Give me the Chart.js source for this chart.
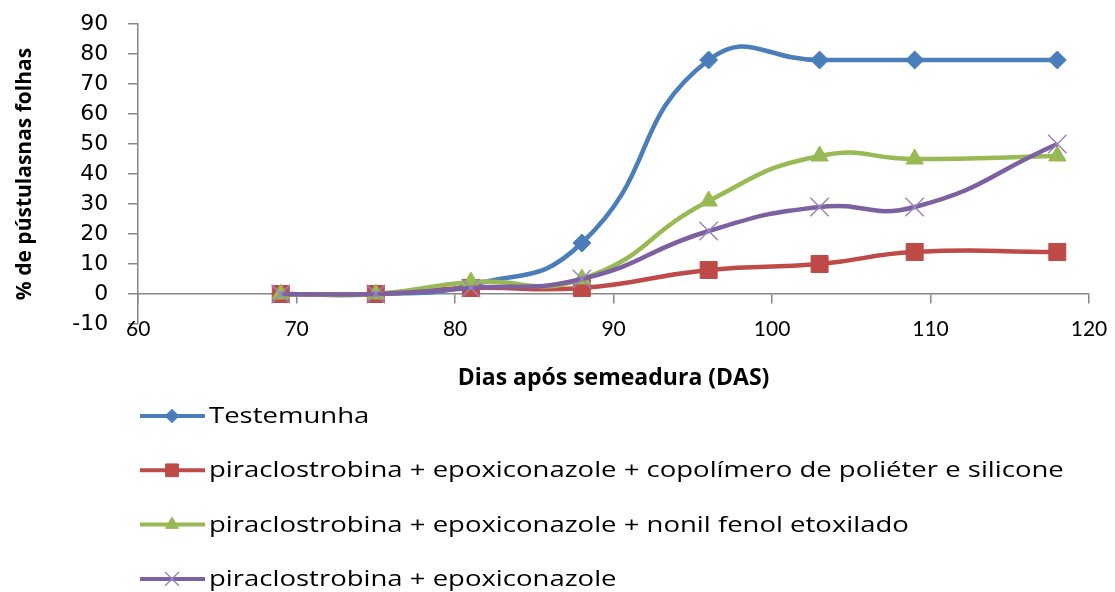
<!DOCTYPE html>
<html>
<head>
<meta charset="utf-8">
<script src="https://cdn.jsdelivr.net/npm/chart.js@4/dist/chart.umd.min.js"></script>
<style>
html, body { margin: 0; padding: 0; background: #fff; }
#caixa { width: 1115px; height: 592px; position: relative; }
</style>
</head>
<body>
<div id="caixa"><canvas id="grafico"></canvas></div>
<script>
// dados
const dias = [69, 75, 81, 88, 96, 103, 109, 118];
const testemunha = [0, 0, 3, 17, 78, 78, 78, 78];
const pirEpoSilicone = [0, 0, 2, 2, 8, 10, 14, 14];
const pirEpoNonil = [0, 0, 4, 5, 31, 46, 45, 46];
const pirEpo = [0, 0, 2, 5, 21, 29, 29, 50];
const nomes = [
    "Testemunha",
    "piraclostrobina + epoxiconazole + copolímero de poliéter e silicone",
    "piraclostrobina + epoxiconazole + nonil fenol etoxilado",
    "piraclostrobina + epoxiconazole"
];
const ticksX = [60, 70, 80, 90, 100, 110, 120];
const ticksY = [-10, 0, 10, 20, 30, 40, 50, 60, 70, 80, 90];

const pontos = (valores) => dias.map((d, i) => ({ x: d, y: valores[i] }));
const cinza = "#868686";

// legenda em coluna, como no original (texto esticado na horizontal)
const legendaColuna = {
    id: "legendaColuna",
    afterDraw(chart) {
        const ctx = chart.ctx;
        chart.data.datasets.forEach((ds, i) => {
            const y = 416 + i * 54.3;
            ctx.save();
            ctx.strokeStyle = ds.borderColor;
            ctx.lineWidth = 4;
            ctx.beginPath();
            ctx.moveTo(140, y);
            ctx.lineTo(205, y);
            ctx.stroke();
            ctx.fillStyle = ds.pointBackgroundColor;
            ctx.strokeStyle = ds.pointBorderColor;
            ctx.lineWidth = ds.pointBorderWidth;
            Chart.helpers.drawPoint(ctx, {
                pointStyle: ds.pointStyle,
                radius: ds.pointRadius * 0.75,
                rotation: 0,
                borderWidth: ds.pointBorderWidth
            }, 172, y);
            ctx.fillStyle = "#000";
            ctx.font = "21px 'Open Sans'";
            ctx.textBaseline = "middle";
            ctx.translate(209, y + 1);
            ctx.scale(1.31, 1);
            ctx.fillText(ds.label, 0, 0);
            ctx.restore();
        });
    }
};

const canvas = document.getElementById("grafico").getContext("2d");
let grafico = new Chart(canvas, {
    type: "line",
    data: {
        datasets: [
            {
                label: nomes[0],
                data: pontos(testemunha),
                borderColor: "#4A7EBB",
                pointBackgroundColor: "#4A7EBB",
                pointBorderColor: "#4A7EBB",
                pointStyle: "rectRot",
                pointRadius: 9,
                pointBorderWidth: 1,
                order: 4
            },
            {
                label: nomes[1],
                data: pontos(pirEpoSilicone),
                borderColor: "#BE4B48",
                pointBackgroundColor: "#BE4B48",
                pointBorderColor: "#BE4B48",
                pointStyle: "rect",
                pointRadius: 12,
                pointBorderWidth: 1,
                order: 3
            },
            {
                label: nomes[2],
                data: pontos(pirEpoNonil),
                borderColor: "#98B954",
                pointBackgroundColor: "#98B954",
                pointBorderColor: "#98B954",
                pointStyle: "triangle",
                pointRadius: 10,
                pointBorderWidth: 1,
                order: 2
            },
            {
                label: nomes[3],
                data: pontos(pirEpo),
                borderColor: "#7D60A0",
                pointBackgroundColor: "#9A86BA",
                pointBorderColor: "#9A86BA",
                pointStyle: "crossRot",
                pointRadius: 13,
                pointBorderWidth: 1.5,
                order: 1
            }
        ]
    },
    options: {
        responsive: true,
        maintainAspectRatio: false,
        animation: false,
        datasets: { line: { borderWidth: 4.5, tension: 0.5, fill: false } },
        layout: { padding: { top: 24, right: 0, bottom: 268, left: 0 } },
        plugins: {
            legend: { display: false },
            tooltip: { enabled: false }
        },
        scales: {
            x: {
                type: "linear",
                position: { y: 0 },
                min: 60,
                max: 120,
                afterBuildTicks: (s) => { s.ticks = ticksX.map(v => ({ value: v })); },
                afterFit: (s) => { s.paddingRight = 26; },
                border: { color: cinza, width: 1.5 },
                grid: { drawOnChartArea: false, tickLength: 9, color: cinza, lineWidth: 1.5 },
                ticks: { padding: 14, color: "#000", font: { family: "Lato", size: 21 } },
                title: {
                    display: true,
                    text: "Dias após semeadura (DAS)",
                    color: "#000",
                    font: { family: "Open Sans", size: 23, weight: "bold" },
                    padding: { top: 8 }
                }
            },
            y: {
                min: -10,
                max: 90,
                afterBuildTicks: (s) => { s.ticks = ticksY.map(v => ({ value: v })); },
                afterFit: (s) => { s.paddingTop = 0; },
                border: { color: cinza, width: 1.5 },
                grid: { drawOnChartArea: false, tickLength: 10, color: cinza, lineWidth: 1.5 },
                ticks: { padding: 20, color: "#000", font: { family: "DejaVu Sans", size: 22 } },
                title: {
                    display: true,
                    text: "% de pústulasnas folhas",
                    color: "#000",
                    font: { family: "Open Sans", size: 21, weight: "bold" },
                    padding: { top: 12, bottom: 15 }
                }
            }
        }
    },
    plugins: [legendaColuna]
});
</script>
</body>
</html>
